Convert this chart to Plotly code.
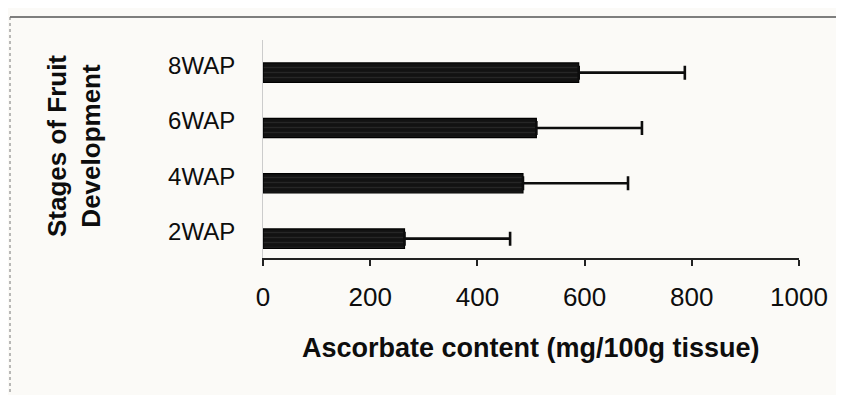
import plotly.graph_objects as go

categories = ["2WAP", "4WAP", "6WAP", "8WAP"]
ascorbate = [264, 485, 510, 589]
error_plus = [197, 196, 197, 198]
x_ticks = [0, 200, 400, 600, 800, 1000]
x_title = "Ascorbate content (mg/100g tissue)"
y_title = "Stages of Fruit<br>Development"

# page has an 8px body margin; size the figure to fit the 844x395 window
W, H = 836, 387
ml, mr, mt, mb = 255, 45, 32, 137
PW, PH = W - ml - mr, H - mt - mb


def px(xf):
    return (xf - 8 - ml) / PW


def py(yf):
    return (H - mb - (yf - 8)) / PH


fig = go.Figure()
fig.add_trace(go.Bar(
    y=categories, x=ascorbate, orientation="h",
    width=0.35,
    marker=dict(color="#121212", line=dict(color="#000000", width=1.2),
                pattern=dict(shape="-", fgcolor="#3a3a3a", bgcolor="#121212", size=5, solidity=0.25)),
    error_x=dict(type="data", array=error_plus, arrayminus=[0]*4, symmetric=False,
                 color="#0d0d0d", thickness=2.6, width=7),
    showlegend=False,
))

font = "Liberation Sans, Arial, sans-serif"
fig.update_layout(
    width=W, height=H,
    margin=dict(l=ml, r=mr, t=mt, b=mb),
    paper_bgcolor="#fbfaf7", plot_bgcolor="#fbfaf7",
    font=dict(family=font, color="#0d0d0d", size=20),
    xaxis=dict(range=[0, 1000], tickvals=x_ticks, ticktext=[str(v) for v in x_ticks],
               showgrid=False, zeroline=False, showline=True, linecolor="#222222", linewidth=2,
               ticks="outside", ticklen=6, tickwidth=1.5, tickcolor="#222222",
               ticklabelstandoff=9,
               tickfont=dict(size=26, family=font, color="#0d0d0d")),
    yaxis=dict(type="category", categoryorder="array", categoryarray=categories,
               range=[-0.35, 3.59], showgrid=False, zeroline=False,
               showline=True, linecolor="#cccccc", linewidth=1,
               ticks="", ticklabelstandoff=22, ticklabelshift=-7,
               tickfont=dict(size=24, family=font, color="#0d0d0d")),
)

fig.add_annotation(text="<b>" + x_title + "</b>", xref="paper", yref="paper",
                   x=px(531), y=py(348), xanchor="center", yanchor="middle",
                   showarrow=False, font=dict(size=27, family=font, color="#0d0d0d"))

fig.add_annotation(text="<b>" + y_title + "</b>", xref="paper", yref="paper",
                   x=px(74), y=py(146), xanchor="center", yanchor="middle",
                   textangle=-90, showarrow=False, font=dict(size=26, family=font, color="#0d0d0d"))

# scanned page frame
fig.add_shape(type="line", xref="paper", yref="paper",
              x0=px(10), x1=px(844), y0=py(17), y1=py(17),
              line=dict(color="#555555", width=1.5))
fig.add_shape(type="line", xref="paper", yref="paper",
              x0=px(10), x1=px(10), y0=py(17), y1=py(395),
              line=dict(color="#777777", width=1, dash="dot"))

fig.write_html("out.html")
